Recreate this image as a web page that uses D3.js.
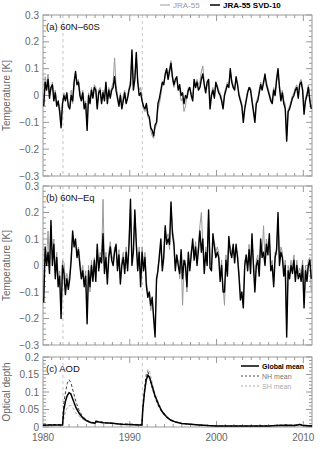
<!DOCTYPE html>
<html>
<head>
<meta charset="utf-8">
<script src="https://cdn.jsdelivr.net/npm/d3@7"></script>
<style>
  body { margin: 0; background: #fff; }
  svg text { font-family: "Liberation Sans", Arial, sans-serif; }
</style>
</head>
<body>
<div id="result"></div>
<script>
// bimonthly values, 6 per year, 1980..2010
const tempA_svd = [
  -0.04, 0.05, 0.02, 0.06, -0.01, 0.03,
  0.04, -0.02, 0.01, -0.04, -0.02, -0.06,
  -0.12, -0.03, 0.00, -0.02, 0.01, -0.04,
  -0.05, 0.00, -0.02, 0.05, 0.09, 0.04,
  0.05, 0.00, -0.02, 0.01, -0.05, -0.03,
  -0.13, 0.00, -0.03, 0.02, -0.01, 0.03,
  0.02, -0.05, 0.01, 0.02, -0.03, 0.01,
  -0.02, 0.05, -0.03, 0.02, -0.01, 0.02,
  0.03, 0.07, 0.02, -0.01, -0.04, 0.00,
  -0.05, -0.02, 0.01, -0.03, -0.01, 0.02,
  0.04, 0.17, 0.02, 0.06, 0.16, 0.05,
  0.00, 0.01, -0.02, -0.04, -0.05, -0.03,
  -0.07, -0.08, -0.12, -0.13, -0.15, -0.11,
  -0.10, -0.03, -0.01, 0.02, 0.05, 0.04,
  0.08, 0.10, 0.06, 0.09, 0.12, 0.07,
  0.04, 0.06, 0.07, 0.02, 0.04, 0.00,
  0.01, -0.03, 0.00, -0.01, 0.02, 0.03,
  0.00, -0.02, 0.06, 0.03, 0.05, 0.02,
  0.03, 0.06, 0.08, 0.04, 0.01, 0.05,
  0.06, -0.05, 0.00, 0.02, -0.01, 0.05,
  0.03, 0.01, 0.00, -0.02, -0.05, 0.00,
  0.02, 0.04, 0.03, 0.10, 0.05, 0.03,
  0.02, 0.07, 0.04, 0.00, -0.02, -0.04,
  -0.10, -0.05, -0.02, 0.01, 0.03, 0.02,
  -0.02, -0.06, -0.10, -0.03, -0.02, 0.01,
  0.04, 0.02, 0.05, 0.08, 0.04, 0.02,
  0.00, -0.02, -0.03, 0.02, 0.00, 0.06,
  0.10, 0.03, -0.02, 0.01, -0.03, -0.05,
  -0.17, -0.06, -0.05, -0.03, -0.01, 0.00,
  0.02, 0.03, -0.01, 0.04, 0.05, 0.02,
  -0.07, -0.02, 0.00, 0.03, -0.02, -0.05
];
const tempA_jra = [
  -0.03, 0.07, 0.04, 0.08, 0.01, 0.02,
  0.05, 0.00, 0.02, -0.03, -0.03, -0.04,
  -0.10, -0.02, 0.01, 0.00, -0.01, -0.03,
  -0.04, 0.02, -0.03, 0.03, 0.08, 0.05,
  0.06, 0.02, -0.01, 0.02, -0.04, -0.02,
  -0.11, 0.01, -0.02, 0.03, 0.00, 0.04,
  0.03, -0.04, 0.02, 0.03, -0.02, 0.02,
  0.00, 0.04, -0.02, 0.03, 0.01, 0.03,
  0.05, 0.14, 0.04, 0.00, -0.03, 0.01,
  -0.04, 0.00, 0.02, -0.02, 0.00, 0.03,
  0.06, 0.15, 0.04, 0.07, 0.14, 0.06,
  0.02, 0.03, -0.01, -0.05, -0.06, -0.04,
  -0.08, -0.09, -0.13, -0.15, -0.16, -0.12,
  -0.11, -0.05, -0.03, 0.00, 0.04, 0.05,
  0.07, 0.09, 0.08, 0.10, 0.13, 0.06,
  0.03, 0.05, 0.06, 0.03, 0.02, -0.02,
  -0.01, -0.06, -0.04, 0.00, 0.03, 0.02,
  0.01, -0.01, 0.05, 0.04, 0.06, 0.04,
  0.05, 0.09, 0.11, 0.05, 0.02, 0.04,
  0.05, -0.03, 0.01, 0.03, 0.00, 0.04,
  0.04, 0.02, 0.01, -0.01, -0.04, 0.01,
  0.03, 0.05, 0.04, 0.09, 0.06, 0.04,
  0.03, 0.05, 0.05, 0.01, -0.01, -0.03,
  -0.08, -0.04, -0.01, 0.02, 0.02, 0.03,
  -0.01, -0.05, -0.08, -0.02, -0.01, 0.02,
  0.05, 0.03, 0.04, 0.07, 0.05, 0.03,
  0.01, -0.01, -0.02, 0.03, 0.01, 0.05,
  0.08, 0.04, -0.01, 0.02, -0.02, -0.03,
  -0.15, -0.05, -0.04, -0.02, 0.00, 0.01,
  0.03, 0.04, 0.00, 0.05, 0.06, 0.03,
  -0.05, -0.01, 0.01, 0.04, -0.01, -0.04
];
const tempB_svd = [
  -0.14, 0.07, 0.00, 0.05, -0.03, 0.17,
  0.00, 0.08, -0.05, 0.03, -0.08, -0.04,
  -0.20, 0.00, -0.03, -0.11, -0.05, -0.09,
  -0.05, 0.02, 0.13, 0.07, 0.10, 0.03,
  0.06, 0.00, -0.05, -0.02, -0.08, -0.04,
  -0.22, -0.02, -0.08, 0.00, -0.06, 0.02,
  -0.06, 0.08, -0.02, 0.03, 0.01, 0.12,
  -0.03, 0.03, -0.07, 0.03, 0.07, 0.02,
  0.00, 0.05, 0.08, -0.02, 0.04, -0.07,
  0.00, 0.03, -0.03, 0.05, -0.02, 0.08,
  0.25, 0.00, 0.05, 0.21, 0.08, -0.02,
  0.05, -0.08, 0.05, -0.02, 0.03, -0.08,
  -0.12, -0.10, -0.15, -0.12, -0.20, -0.27,
  -0.05, -0.02, 0.04, 0.10, -0.02, 0.03,
  0.15, 0.08, 0.10, 0.08, 0.24, 0.12,
  0.08, -0.02, 0.04, 0.00, -0.03, 0.06,
  -0.05, 0.02, 0.00, -0.08, 0.05, -0.02,
  0.04, 0.10, 0.02, 0.07, 0.00, 0.06,
  0.13, 0.05, 0.10, -0.03, 0.05, 0.00,
  0.21, -0.01, -0.02, 0.12, 0.07, 0.03,
  0.05, 0.03, -0.06, 0.00, -0.10, -0.10,
  0.02, -0.04, 0.11, 0.05, 0.03, 0.08,
  0.01, 0.08, 0.03, -0.04, -0.13, -0.10,
  -0.16, 0.00, 0.04, -0.02, 0.06, -0.03,
  0.12, 0.00, -0.10, 0.00, 0.02, -0.04,
  0.10, 0.03, 0.05, 0.00, 0.08, 0.04,
  0.12, -0.02, 0.00, -0.08, 0.03, 0.06,
  0.20, 0.00, 0.05, 0.03, -0.04, 0.00,
  -0.27, -0.02, -0.05, 0.00, -0.03, 0.02,
  -0.06, 0.00, -0.05, -0.03, -0.06, 0.00,
  -0.16, -0.02, -0.06, 0.00, 0.02, -0.05
];
const tempB_jra = [
  -0.10, 0.05, 0.03, 0.13, -0.01, 0.15,
  0.03, 0.10, -0.02, 0.05, -0.05, -0.02,
  -0.17, 0.02, 0.01, -0.06, -0.03, -0.07,
  -0.03, 0.04, 0.11, 0.09, 0.08, 0.05,
  0.07, 0.02, -0.03, 0.00, -0.06, -0.02,
  -0.18, 0.00, -0.10, 0.02, -0.04, 0.03,
  -0.04, 0.06, 0.00, 0.05, 0.03, 0.25,
  -0.01, 0.05, -0.05, 0.05, 0.09, 0.04,
  0.02, 0.07, 0.06, 0.00, 0.06, -0.05,
  0.02, 0.05, -0.01, 0.07, 0.00, 0.10,
  0.22, 0.02, 0.07, 0.19, 0.10, 0.00,
  0.07, -0.05, 0.07, 0.00, 0.05, -0.06,
  -0.10, -0.12, -0.17, -0.14, -0.18, -0.24,
  -0.07, 0.00, 0.02, 0.08, 0.00, 0.05,
  0.13, 0.10, 0.12, 0.06, 0.22, 0.14,
  0.10, 0.00, 0.02, 0.02, -0.05, 0.04,
  -0.15, 0.00, 0.02, -0.10, 0.03, 0.00,
  0.06, 0.08, 0.04, 0.09, 0.02, 0.08,
  0.15, 0.20, 0.08, -0.01, 0.07, 0.02,
  0.19, 0.01, 0.00, 0.10, 0.09, 0.05,
  0.07, 0.05, -0.04, 0.02, -0.08, -0.15,
  0.04, -0.02, 0.09, 0.07, 0.05, 0.06,
  0.03, 0.06, 0.05, -0.02, -0.10, -0.12,
  -0.14, 0.02, 0.02, 0.00, 0.08, -0.01,
  0.10, 0.02, -0.08, 0.02, 0.04, -0.02,
  0.08, 0.05, 0.15, 0.02, 0.10, 0.06,
  0.10, 0.00, 0.02, -0.06, 0.05, 0.04,
  0.18, 0.02, 0.07, 0.05, -0.02, 0.02,
  -0.24, 0.00, -0.03, 0.02, -0.01, 0.04,
  -0.04, 0.02, -0.03, -0.01, -0.04, 0.02,
  -0.14, 0.00, -0.04, 0.02, 0.03, -0.10
];

// aerosol optical depth
const aodYears = [1980, 1981, 1982, 1982.25, 1982.4, 1982.6, 1982.8, 1983.0, 1983.2, 1983.5, 1983.8, 1984.2, 1984.6, 1985.0, 1985.5, 1986.0, 1986.1, 1986.5, 1987, 1988, 1989, 1990, 1991, 1991.4, 1991.5, 1991.7, 1991.9, 1992.1, 1992.3, 1992.6, 1992.9, 1993.3, 1993.7, 1994.2, 1994.7, 1995.3, 1996, 1997, 1998, 1999, 2000, 2002, 2004, 2006, 2007, 2008, 2009, 2009.6, 2010, 2011];
const aodGlobal = [0.005,0.006,0.006,0.006,0.05,0.075,0.09,0.098,0.095,0.075,0.055,0.038,0.026,0.018,0.013,0.011,0.016,0.014,0.012,0.011,0.008,0.007,0.006,0.006,0.05,0.1,0.135,0.148,0.14,0.115,0.09,0.065,0.045,0.03,0.02,0.014,0.01,0.008,0.006,0.004,0.003,0.003,0.003,0.003,0.004,0.005,0.004,0.007,0.004,0.003];
const aodNH = [0.006,0.007,0.007,0.007,0.07,0.1,0.125,0.135,0.128,0.1,0.072,0.045,0.03,0.02,0.014,0.012,0.017,0.015,0.013,0.011,0.009,0.008,0.007,0.007,0.055,0.11,0.15,0.158,0.14,0.11,0.085,0.06,0.042,0.028,0.019,0.013,0.01,0.008,0.006,0.004,0.003,0.003,0.003,0.004,0.005,0.006,0.005,0.008,0.005,0.004];
const aodSH = [0.004,0.005,0.005,0.005,0.025,0.045,0.055,0.06,0.062,0.052,0.04,0.03,0.022,0.016,0.012,0.01,0.014,0.012,0.011,0.01,0.007,0.006,0.005,0.005,0.045,0.095,0.14,0.165,0.158,0.125,0.095,0.07,0.048,0.032,0.021,0.015,0.01,0.008,0.006,0.004,0.003,0.003,0.003,0.003,0.004,0.004,0.004,0.005,0.004,0.003];

const eruptions = [1982.3, 1991.45];
const xTicks = [1980, 1990, 2000, 2010];
const tempTicks = [-0.3, -0.2, -0.1, 0, 0.1, 0.2, 0.3];
const aodTicks = [0, 0.05, 0.1, 0.15, 0.2];

const W = 320, H = 449;
const left = 43, right = 312;
const axisColor = '#999', labelColor = '#666';

const svg = d3.select('#result').append('svg').attr('width', W).attr('height', H);
const x = d3.scaleLinear().domain([1980, 2011]).range([left, right]);

function fmt(v) {
  if (v === 0) return '0';
  return (v < 0 ? '\u2212' : '') + String(Math.abs(v));
}

function panel(top, bottom, domain, ticks, minorStep, ylabel, label) {
  const y = d3.scaleLinear().domain(domain).range([bottom, top]);
  const g = svg.append('g');

  // vertical eruption markers
  g.selectAll('line.erupt').data(eruptions).join('line')
    .attr('x1', d => x(d)).attr('x2', d => x(d))
    .attr('y1', top).attr('y2', bottom)
    .attr('stroke', '#c4c4c4').attr('stroke-width', 1).attr('stroke-dasharray', '3,3');

  const frame = g.append('g');
  frame.append('rect').attr('x', left).attr('y', top)
    .attr('width', right - left).attr('height', bottom - top)
    .attr('fill', 'none').attr('stroke', axisColor).attr('stroke-width', 1);

  // x ticks (each year minor, decades major), top and bottom, inward
  d3.range(1981, 2011).forEach(yr => {
    const len = yr % 10 === 0 ? 6 : 3;
    frame.append('line').attr('x1', x(yr)).attr('x2', x(yr)).attr('y1', bottom).attr('y2', bottom - len)
      .attr('stroke', axisColor);
    frame.append('line').attr('x1', x(yr)).attr('x2', x(yr)).attr('y1', top).attr('y2', top + len)
      .attr('stroke', axisColor);
  });

  // y ticks left and right
  const minors = d3.range(domain[0], domain[1] + minorStep / 2, minorStep);
  minors.forEach(v => {
    const major = ticks.some(t => Math.abs(t - v) < 1e-6);
    const len = major ? 6 : 3;
    frame.append('line').attr('x1', left).attr('x2', left + len).attr('y1', y(v)).attr('y2', y(v)).attr('stroke', axisColor);
    frame.append('line').attr('x1', right).attr('x2', right - len).attr('y1', y(v)).attr('y2', y(v)).attr('stroke', axisColor);
  });

  g.selectAll('text.ytick').data(ticks).join('text')
    .attr('x', left - 4).attr('y', d => y(d) + 3.5)
    .attr('text-anchor', 'end').attr('font-size', 10).attr('fill', labelColor)
    .text(fmt);

  svg.append('text')
    .attr('transform', `translate(10,${(top + bottom) / 2})rotate(-90)`)
    .attr('text-anchor', 'middle').attr('font-size', 10).attr('fill', labelColor)
    .text(ylabel);

  svg.append('text').attr('x', left + 3).attr('y', top + 15)
    .attr('font-size', 9.5).attr('fill', '#111')
    .text(label);

  return { g, y };
}

function bimonthly(arr) {
  return arr.map((v, i) => ({ t: 1980 + (i + 0.5) / 6, v }));
}

function tempPanel(top, bottom, jra, svd, label) {
  const p = panel(top, bottom, [-0.3, 0.3], tempTicks, 0.02, 'Temperature [K]', label);
  const line = d3.line().x(d => x(d.t)).y(d => p.y(d.v));
  p.g.append('path').datum(bimonthly(jra)).attr('d', line)
    .attr('fill', 'none').attr('stroke', '#9a9a9a').attr('stroke-width', 1);
  p.g.append('path').datum(bimonthly(svd)).attr('d', line)
    .attr('fill', 'none').attr('stroke', '#000').attr('stroke-width', 1.4).attr('stroke-linejoin', 'round');
}

tempPanel(15, 176, tempA_jra, tempA_svd, '(a) 60N\u201360S');
tempPanel(186, 345, tempB_jra, tempB_svd, '(b) 60N\u2013Eq');

const pc = panel(357, 427, [0, 0.2], aodTicks, 0.01, 'Optical depth', '(c) AOD');
const aodLine = d3.line().x(d => x(d[0])).y(d => pc.y(d[1]));
const zip = arr => aodYears.map((t, i) => [t, arr[i]]);
pc.g.append('path').datum(zip(aodSH)).attr('d', aodLine)
  .attr('fill', 'none').attr('stroke', '#aaa').attr('stroke-width', 1).attr('stroke-dasharray', '3,2');
pc.g.append('path').datum(zip(aodNH)).attr('d', aodLine)
  .attr('fill', 'none').attr('stroke', '#444').attr('stroke-width', 1).attr('stroke-dasharray', '3,2');
pc.g.append('path').datum(zip(aodGlobal)).attr('d', aodLine)
  .attr('fill', 'none').attr('stroke', '#000').attr('stroke-width', 1.5);

// x tick labels under last panel
svg.selectAll('text.xtick').data(xTicks).join('text')
  .attr('x', d => x(d)).attr('y', 441)
  .attr('text-anchor', 'middle').attr('font-size', 10).attr('fill', labelColor)
  .text(d => d);

// top legend
const legTop = [
  { name: 'JRA-55', color: '#9a9a9a', w: 1, x0: 160, bold: false },
  { name: 'JRA-55 SVD-10', color: '#000', w: 1.5, x0: 210, bold: true }
];
legTop.forEach(d => {
  svg.append('line').attr('x1', d.x0).attr('x2', d.x0 + 10).attr('y1', 5).attr('y2', 5)
    .attr('stroke', d.color).attr('stroke-width', d.w);
  svg.append('text').attr('x', d.x0 + 13).attr('y', 8).attr('font-size', 8)
    .attr('fill', d.bold ? '#000' : '#999').attr('font-weight', d.bold ? 'bold' : 'normal')
    .text(d.name);
});

// AOD legend
const legAod = [
  { name: 'Global mean', color: '#000', w: 1.5, dash: null, y0: 366, fill: '#000', bold: true },
  { name: 'NH mean', color: '#444', w: 1, dash: '2,2', y0: 376, fill: '#777', bold: false },
  { name: 'SH mean', color: '#aaa', w: 1, dash: '2,2', y0: 386, fill: '#aaa', bold: false }
];
legAod.forEach(d => {
  svg.append('line').attr('x1', 241).attr('x2', 259).attr('y1', d.y0).attr('y2', d.y0)
    .attr('stroke', d.color).attr('stroke-width', d.w).attr('stroke-dasharray', d.dash);
  svg.append('text').attr('x', 262).attr('y', d.y0 + 2.5).attr('font-size', 7)
    .attr('fill', d.fill).attr('font-weight', d.bold ? 'bold' : 'normal')
    .text(d.name);
});
</script>
</body>
</html>
